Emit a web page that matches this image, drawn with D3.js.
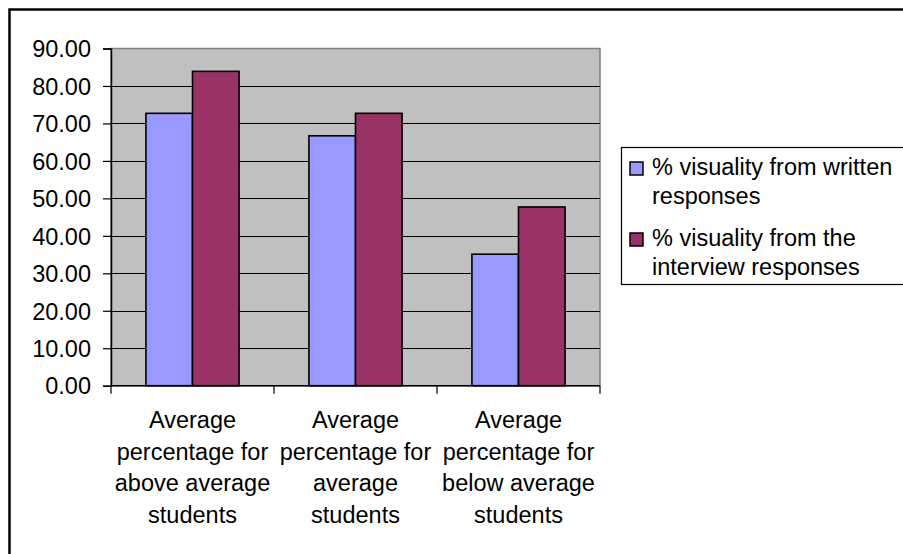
<!DOCTYPE html>
<html>
<head>
<meta charset="utf-8">
<script src="https://cdn.jsdelivr.net/npm/d3@7"></script>
<style>
  html, body { margin: 0; padding: 0; background: #ffffff; }
  svg { display: block; }
  text { font-family: "Liberation Sans", Arial, sans-serif; fill: #000; }
</style>
</head>
<body>
<svg id="chart" width="903" height="554"></svg>
<script>
// Category labels (each drawn on several lines)
const categories = [
  ["Average", "percentage for", "above average", "students"],
  ["Average", "percentage for", "average", "students"],
  ["Average", "percentage for", "below average", "students"]
];
const seriesNames = [
  ["% visuality from written", "responses"],
  ["% visuality from the", "interview responses"]
];
const writtenValues = [72.7, 66.7, 35.1];
const interviewValues = [83.9, 72.7, 47.7];
const yTicks = [0, 10, 20, 30, 40, 50, 60, 70, 80, 90];
const colors = ["#9999FF", "#993366"];

const svg = d3.select("#chart");
const fontSize = 23.5;

// Outer chart frame
svg.append("rect")
  .attr("x", 9.5).attr("y", 9.5)
  .attr("width", 1000).attr("height", 1000)
  .attr("fill", "#fff")
  .attr("stroke", "#000").attr("stroke-width", 2.5);

const plot = { left: 111, right: 600, top: 48.5, bottom: 385.7 };

const y = d3.scaleLinear().domain([0, 90]).range([plot.bottom, plot.top]);
const x = d3.scaleBand()
  .domain(d3.range(categories.length))
  .range([plot.left, plot.right])
  .paddingInner(0).paddingOuter(0);
// bars: gap width 150% of a single bar
const barW = x.bandwidth() / 3.5;
const xs = d3.scaleBand().domain([0, 1])
  .range([x.bandwidth() / 2 - barW, x.bandwidth() / 2 + barW]);

// Plot area
svg.append("rect")
  .attr("x", plot.left).attr("y", plot.top)
  .attr("width", plot.right - plot.left).attr("height", plot.bottom - plot.top)
  .attr("fill", "#C0C0C0")
  .attr("stroke", "#808080").attr("stroke-width", 1.5);

// Gridlines
svg.append("g").selectAll("line")
  .data(yTicks.filter(d => d > 0 && d < 90))
  .join("line")
  .attr("x1", plot.left).attr("x2", plot.right)
  .attr("y1", d => Math.round(y(d)) + 0.5).attr("y2", d => Math.round(y(d)) + 0.5)
  .attr("stroke", "#000").attr("stroke-width", 1);

// Bars
const series = [writtenValues, interviewValues];
series.forEach((vals, si) => {
  svg.append("g").selectAll("rect")
    .data(vals)
    .join("rect")
    .attr("x", (d, i) => x(i) + xs(si))
    .attr("y", d => y(d))
    .attr("width", xs.bandwidth())
    .attr("height", d => plot.bottom - y(d))
    .attr("fill", colors[si])
    .attr("stroke", "#000").attr("stroke-width", 1.6);
});

// Y axis
const yAxis = d3.axisLeft(y)
  .tickValues(yTicks)
  .tickFormat(d3.format(".2f"))
  .tickSize(8).tickPadding(12);
const gy = svg.append("g")
  .attr("transform", `translate(${plot.left},0)`)
  .call(yAxis);
gy.select(".domain").attr("stroke", "#000").attr("stroke-width", 1.5);
gy.selectAll(".tick line").attr("stroke", "#000").attr("stroke-width", 1.2);
gy.selectAll(".tick text")
  .attr("font-size", fontSize)
  .attr("font-family", "'Liberation Sans', Arial, sans-serif")
  .attr("fill", "#000")
  .attr("dy", "0.35em");

// X axis line and tick marks at category boundaries
const boundaries = categories.map((c, i) => x(i)).concat([plot.right]);
svg.append("line")
  .attr("x1", plot.left).attr("x2", plot.right)
  .attr("y1", plot.bottom).attr("y2", plot.bottom)
  .attr("stroke", "#000").attr("stroke-width", 1.6);
svg.append("g").selectAll("line")
  .data(boundaries)
  .join("line")
  .attr("x1", d => d).attr("x2", d => d)
  .attr("y1", plot.bottom).attr("y2", plot.bottom + 8)
  .attr("stroke", "#000").attr("stroke-width", 1.2);

// Category labels
const lineH = 31.5;
svg.append("g").selectAll("text")
  .data(categories)
  .join("text")
  .attr("text-anchor", "middle")
  .attr("font-size", fontSize)
  .each(function (lines, i) {
    d3.select(this).selectAll("tspan")
      .data(lines)
      .join("tspan")
      .attr("x", x(i) + x.bandwidth() / 2)
      .attr("y", (d, j) => 428 + j * lineH)
      .text(d => d);
  });

// Legend
const legend = svg.append("g");
legend.append("rect")
  .attr("x", 621.5).attr("y", 147.5)
  .attr("width", 400).attr("height", 137)
  .attr("fill", "#fff")
  .attr("stroke", "#000").attr("stroke-width", 1.2);
const itemY = [162, 233];
const lineY = [[175, 203.5], [246, 274.5]];
seriesNames.forEach((lines, si) => {
  legend.append("rect")
    .attr("x", 630).attr("y", itemY[si])
    .attr("width", 13).attr("height", 13)
    .attr("fill", colors[si])
    .attr("stroke", "#000").attr("stroke-width", 1.5);
  const t = legend.append("text").attr("font-size", fontSize);
  t.selectAll("tspan")
    .data(lines)
    .join("tspan")
    .attr("x", 652)
    .attr("y", (d, j) => lineY[si][j])
    .text(d => d);
});
</script>
</body>
</html>
